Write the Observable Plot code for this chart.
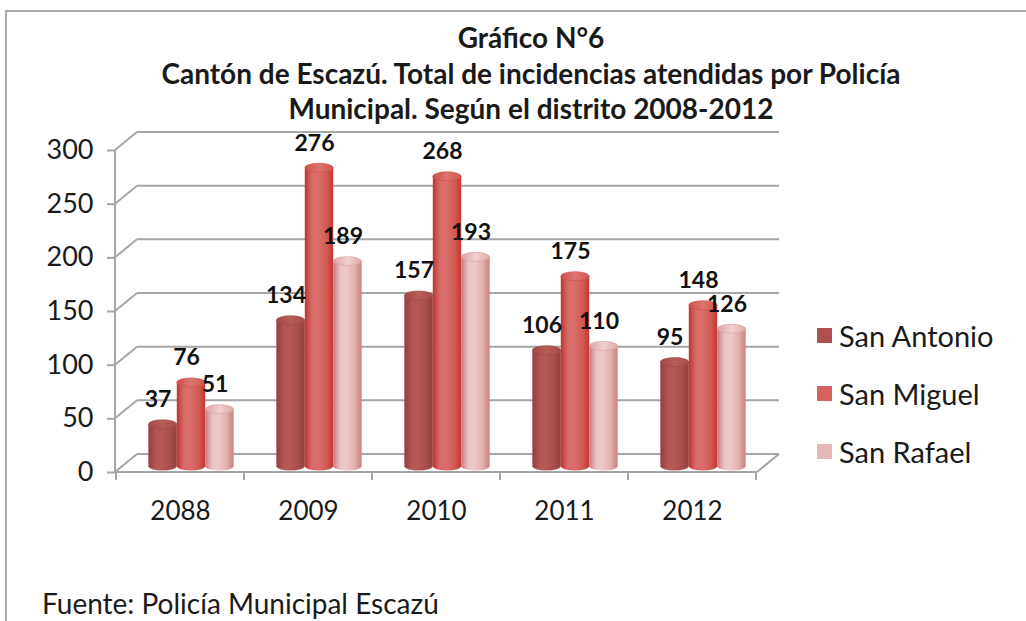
<!DOCTYPE html>
<html>
<head>
<meta charset="utf-8">
<script src="https://cdn.jsdelivr.net/npm/d3@7"></script>
<script src="https://cdn.jsdelivr.net/npm/@observablehq/plot@0.6"></script>
<style>
  body { margin: 0; background: #fff; }
  #wrap { position: relative; width: 1026px; height: 621px; overflow: hidden; font-family: Lato, "Open Sans", sans-serif; color: #1a1a1a; }
  #wrap svg.plot { position: absolute; left: 0; top: 0; }
  .bt { position: absolute; background: #a8a8a8; }
  .title { position: absolute; left: 0; width: 1062px; text-align: center; font-weight: bold; font-size: 28px; line-height: 1; white-space: nowrap; }
  .legend { position: absolute; left: 817px; font-size: 29px; }
  .legend .row { position: absolute; left: 0; white-space: nowrap; display: flex; align-items: center; line-height: 1; }
  .legend .sw { width: 15px; height: 15px; margin-right: 7px; }
  .foot { position: absolute; left: 42px; top: 589px; font-size: 28px; line-height: 1; white-space: nowrap; }
</style>
</head>
<body>
<div id="wrap">
  <div class="bt" style="left:5px; top:10px; width:1021px; height:2px;"></div>
  <div class="bt" style="left:5px; top:10px; width:2px; height:611px;"></div>
  <div class="title" style="top:23px;">Gráfico N°6</div>
  <div class="title" style="top:59px;">Cantón de Escazú. Total de incidencias atendidas por Policía</div>
  <div class="title" style="top:94px;">Municipal. Según el distrito 2008-2012</div>
  <div class="legend" id="legend"></div>
  <div class="foot">Fuente: Policía Municipal Escazú</div>
</div>
<script>
// ---- data ----
const years = ["2088", "2009", "2010", "2011", "2012"];
const series = ["San Antonio", "San Miguel", "San Rafael"];
const sanAntonio = [37, 134, 157, 106, 95];
const sanMiguel = [76, 276, 268, 175, 148];
const sanRafael = [51, 189, 193, 110, 126];
const yTicks = [0, 50, 100, 150, 200, 250, 300];
const colors = ["#b0504d", "#d6625d", "#e5b9b8"];

const values = [sanAntonio, sanMiguel, sanRafael];
const table = [];
series.forEach((s, si) => years.forEach((yr, yi) => table.push({year: yr, series: s, si, value: values[si][yi]})));

// ---- geometry (style parameters) ----
const DEPTH_X = 22, DEPTH_Y = -18;   // 3D back-wall offset
const BAR_FRAC = 0.222;              // bar width as fraction of band
const BAR_DX = 11, BAR_DY = -8;      // bars sit mid-depth
const gridColor = "#a6a6a6";

function shade(c, k) { const h = d3.hsl(c); h.l = Math.max(0, Math.min(1, h.l * k)); return h.formatHex(); }

function bandwidthOf(scales, dims) {
  if (scales.scales && scales.scales.x && scales.scales.x.bandwidth) return scales.scales.x.bandwidth;
  if (scales.x && scales.x.bandwidth) return typeof scales.x.bandwidth === "function" ? scales.x.bandwidth() : scales.x.bandwidth;
  return (dims.width - dims.marginLeft - dims.marginRight) / years.length;
}

// back wall, floor, axis line
function frame3d(index, scales, channels, dims) {
  const {y} = scales;
  const x0 = dims.marginLeft, x1 = dims.width - dims.marginRight;
  const bw = bandwidthOf(scales, dims);
  const g = d3.create("svg:g").attr("stroke", gridColor).attr("stroke-width", 2).attr("fill", "none");
  for (const v of yTicks) {
    const yy = y(v);
    g.append("line").attr("x1", x0).attr("y1", yy).attr("x2", x0 + DEPTH_X).attr("y2", yy + DEPTH_Y);
    g.append("line").attr("x1", x0 + DEPTH_X).attr("y1", yy + DEPTH_Y).attr("x2", x1 + DEPTH_X).attr("y2", yy + DEPTH_Y);
  }
  const y0 = y(0);
  g.append("line").attr("x1", x0).attr("y1", y(300)).attr("x2", x0).attr("y2", y0 + 1);
  g.append("line").attr("x1", x0).attr("y1", y0).attr("x2", x1).attr("y2", y0);
  g.append("line").attr("x1", x1).attr("y1", y0).attr("x2", x1 + DEPTH_X).attr("y2", y0 + DEPTH_Y);
  const xs = years.map(yr => scales.x(yr)).concat([scales.x(years[years.length - 1]) + bw]);
  for (const xx of xs) g.append("line").attr("x1", xx).attr("y1", y0).attr("x2", xx).attr("y2", y0 + 8);
  return g.node();
}

// cylinders
function cylinders(index, scales, channels, dims) {
  const {x, y} = scales;
  const bw = bandwidthOf(scales, dims);
  const w = bw * BAR_FRAC, rx = w / 2, ry = 4.5;
  const svg = d3.create("svg:g");
  const defs = svg.append("defs");
  colors.forEach((c, i) => {
    const gb = defs.append("linearGradient").attr("id", "cyl" + i).attr("x1", 0).attr("x2", 1).attr("y1", 0).attr("y2", 0);
    [[0, 0.78], [0.25, 1.04], [0.45, 1.06], [0.75, 0.97], [1, 0.8]].forEach(([o, k]) =>
      gb.append("stop").attr("offset", o).attr("stop-color", shade(c, k)));
    const gt = defs.append("linearGradient").attr("id", "top" + i).attr("x1", 0).attr("x2", 1).attr("y1", 0).attr("y2", 0);
    [[0, 0.92], [0.5, 1.08], [1, 0.95]].forEach(([o, k]) =>
      gt.append("stop").attr("offset", o).attr("stop-color", shade(c, k)));
  });
  const base = y(0) + BAR_DY + 2;
  for (const d of table) {
    const cx = x(d.year) + bw / 2 + (d.si - 1) * w + BAR_DX;
    const top = y(d.value) + BAR_DY;
    svg.append("path")
      .attr("d", `M${cx - rx},${top} L${cx - rx},${base} A${rx},${ry} 0 0 0 ${cx + rx},${base} L${cx + rx},${top} Z`)
      .attr("fill", `url(#cyl${d.si})`);
    svg.append("ellipse").attr("cx", cx).attr("cy", top).attr("rx", rx).attr("ry", ry)
      .attr("fill", `url(#top${d.si})`).attr("stroke", shade(colors[d.si], 0.9)).attr("stroke-width", 0.6);
  }
  return svg.node();
}

const W = 1026, H = 621;
const mL = 115, mR = 269, mT = 150, mB = 149;
const bandW = (W - mL - mR) / years.length;
const w = bandW * BAR_FRAC;

const labelMarks = series.map((s, si) =>
  Plot.text(table.filter(d => d.si === si), {
    x: "year", y: "value", text: d => String(d.value),
    dx: (si - 1) * w + BAR_DX - 5, dy: BAR_DY - 25,
    lineAnchor: "middle", fontWeight: "bold", fontSize: 23, fill: "#111"
  })
);

const chart = Plot.plot({
  width: W, height: H,
  marginLeft: mL, marginRight: mR, marginTop: mT, marginBottom: mB,
  style: {fontFamily: "Lato, 'Open Sans', sans-serif", background: "transparent", overflow: "visible"},
  x: {type: "band", domain: years, padding: 0},
  y: {domain: [0, 300]},
  marks: [
    frame3d,
    Plot.axisY({ticks: yTicks, tickSize: 8, tickPadding: 14, fontSize: 27, stroke: gridColor, strokeWidth: 2, fill: "#1a1a1a", label: null}),
    Plot.axisX({tickSize: 0, tickPadding: 29, fontSize: 26, fill: "#1a1a1a", label: null}),
    cylinders,
    ...labelMarks
  ]
});
chart.classList.add("plot");
document.getElementById("wrap").prepend(chart);

// legend
const legend = document.getElementById("legend");
const rowY = [335, 393, 451];
series.forEach((s, i) => {
  const row = document.createElement("div");
  row.className = "row";
  row.style.top = (rowY[i] - 15) + "px";
  row.style.height = "30px";
  const sw = document.createElement("span");
  sw.className = "sw"; sw.style.background = colors[i];
  const t = document.createElement("span"); t.textContent = s;
  row.appendChild(sw); row.appendChild(t);
  legend.appendChild(row);
});
</script>
</body>
</html>
